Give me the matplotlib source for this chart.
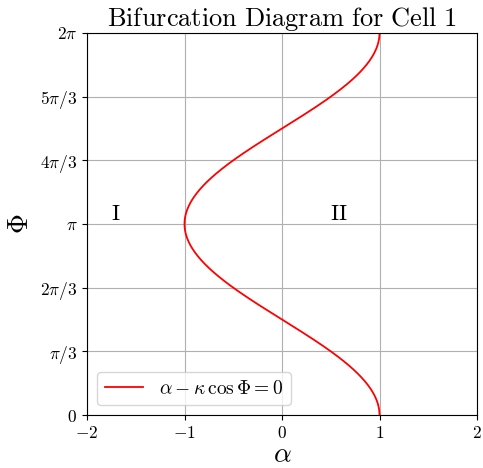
import numpy as np
import matplotlib
matplotlib.use("Agg")
import matplotlib.pyplot as plt

plt.rcParams['mathtext.fontset'] = 'cm'
plt.rcParams['font.family'] = 'serif'
plt.rcParams['font.serif'] = ['cmr10', 'DejaVu Serif']
plt.rcParams['axes.formatter.use_mathtext'] = True

# curve parameters: alpha - kappa*cos(Phi) = 0
kappa = 1.0
phi_range = [0.0, 2 * np.pi]
n_points = 400

# tick labels
x_ticks = [-2, -1, 0, 1, 2]
x_labels = [r'$-2$', r'$-1$', r'$0$', r'$1$', r'$2$']
y_ticks = [0, np.pi / 3, 2 * np.pi / 3, np.pi, 4 * np.pi / 3, 5 * np.pi / 3, 2 * np.pi]
y_labels = [r'$0$', r'$\pi/3$', r'$2\pi/3$', r'$\pi$', r'$4\pi/3$', r'$5\pi/3$', r'$2\pi$']

# region labels
regions = ['I', 'II']
region_x = [-1.7, 0.58]
region_y = [np.pi + 0.16, np.pi + 0.16]

phi = np.linspace(phi_range[0], phi_range[1], n_points)
alpha = kappa * np.cos(phi)

fig = plt.figure(figsize=(4.83, 4.68), dpi=100)
ax = fig.add_axes([87 / 483, 53 / 468, 390 / 483, 382 / 468])

ax.plot(alpha, phi, color='red', lw=1.3, label=r'$\alpha - \kappa\,\cos\Phi = 0$')

ax.set_xlim(-2, 2)
ax.set_ylim(0, 2 * np.pi)
ax.set_xticks(x_ticks)
ax.set_xticklabels(x_labels, fontsize=12.5)
ax.set_yticks(y_ticks)
ax.set_yticklabels(y_labels, fontsize=12.5)
ax.grid(True, color='#b0b0b0', lw=0.8)

for txt, x, y in zip(regions, region_x, region_y):
    ax.text(x, y, r'$\mathrm{%s}$' % txt, fontsize=16, ha='center', va='center')

ax.set_xlabel(r'$\alpha$', fontsize=20, labelpad=1)
ax.set_ylabel(r'$\Phi$', fontsize=20)
ax.set_title(r'$\mathrm{Bifurcation\ Diagram\ for\ Cell\ 1}$', fontsize=19, pad=1)

ax.legend(loc='lower left', fontsize=14)

fig.savefig('out.png', dpi=100)
